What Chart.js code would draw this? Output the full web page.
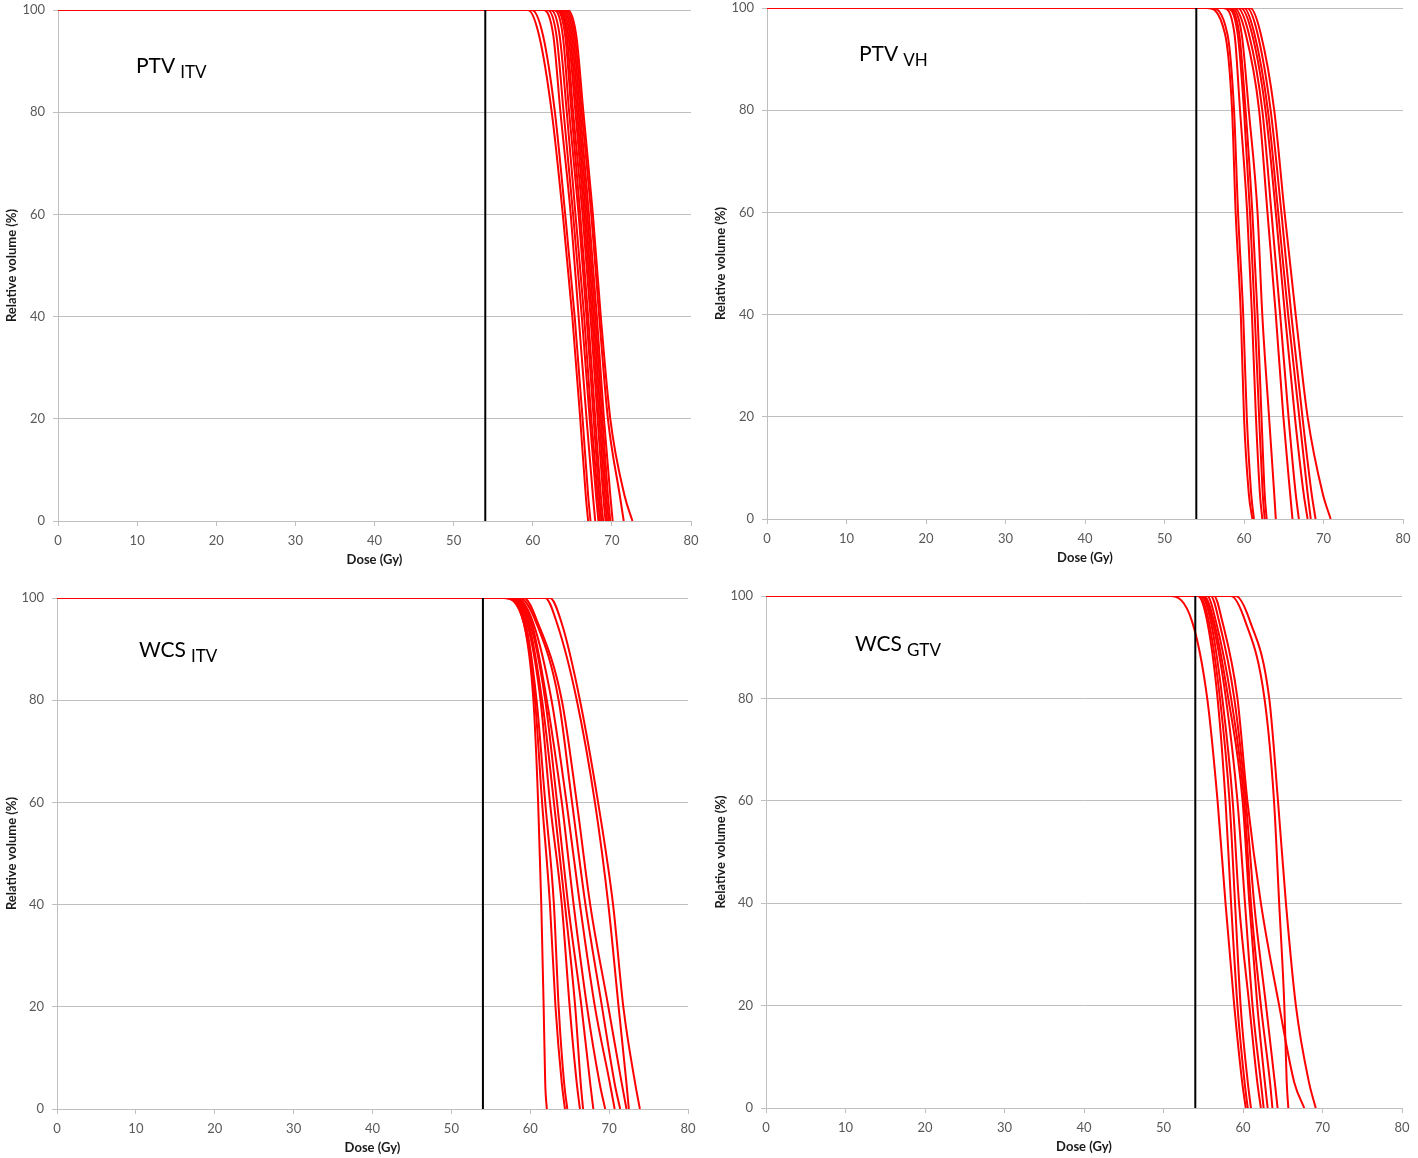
<!DOCTYPE html>
<html>
<head>
<meta charset="utf-8">
<script src="https://cdn.jsdelivr.net/npm/chart.js@4.4.1/dist/chart.umd.min.js"></script>
<style>
  html, body { margin: 0; padding: 0; background: #fff; }
  #wrap { position: relative; width: 1418px; height: 1158px; overflow: hidden; background: #fff; }
  canvas { position: absolute; }
  .lbl { position: absolute; font-family: Lato, "Open Sans", sans-serif; color: #000; white-space: nowrap; line-height: 1; font-size: 21px; z-index: 5; }
  .lbl .sub { font-size: 17px; position: relative; top: 5px; margin-left: 5px; }
</style>
</head>
<body>
<div id="wrap">
  <canvas id="c1"></canvas>
  <canvas id="c2"></canvas>
  <canvas id="c3"></canvas>
  <canvas id="c4"></canvas>
  <div class="lbl" style="left:136px;top:54px">PTV<span class="sub">ITV</span></div>
  <div class="lbl" style="left:859px;top:42px">PTV<span class="sub">VH</span></div>
  <div class="lbl" style="left:139px;top:638px">WCS<span class="sub">ITV</span></div>
  <div class="lbl" style="left:855px;top:632px">WCS<span class="sub">GTV</span></div>
</div>
<script>
// ---------------- DATA ----------------
const xTicks = [0, 10, 20, 30, 40, 50, 60, 70, 80];
const yTicks = [0, 20, 40, 60, 80, 100];
const prescriptionDose = 54;
// relative volume (%) levels at which the dose (Gy) of each curve was read
const volumeLevels = [100, 95, 80, 60, 40, 20, 5, 0];

const ptvItvDoses = [
  [59.4, 60.8, 62.4, 63.8, 65.0, 66.0, 66.7, 67.0],
  [59.9, 61.3, 62.8, 64.1, 65.3, 66.3, 67.0, 67.3],
  [61.4, 62.6, 63.5, 64.8, 65.8, 66.8, 67.6, 67.9],
  [61.9, 63.0, 63.9, 65.1, 66.2, 67.2, 68.0, 68.3],
  [62.3, 63.4, 64.3, 65.4, 66.5, 67.4, 68.2, 68.5],
  [62.7, 63.8, 64.6, 65.8, 66.8, 67.7, 68.4, 68.7],
  [63.0, 64.1, 64.9, 66.0, 67.0, 67.9, 68.6, 68.9],
  [63.2, 64.3, 65.1, 66.3, 67.3, 68.2, 68.9, 69.2],
  [63.4, 64.5, 65.4, 66.5, 67.5, 68.4, 69.1, 69.4],
  [63.6, 64.7, 65.6, 66.7, 67.7, 68.6, 69.3, 69.6],
  [63.8, 64.9, 65.8, 66.9, 67.9, 68.8, 69.5, 69.8],
  [64.0, 65.1, 66.0, 67.1, 68.1, 69.0, 69.8, 70.1],
  [64.2, 65.3, 66.2, 67.4, 68.4, 69.5, 71.0, 71.5],
  [64.4, 65.5, 66.4, 67.6, 68.6, 69.8, 71.6, 72.6]
];

const ptvVhDoses = [
  [55.3, 57.6, 58.5, 58.95, 59.6, 60.0, 60.6, 61.05],
  [55.8, 57.9, 58.75, 59.25, 59.9, 60.35, 60.9, 61.25],
  [57.4, 58.8, 59.5, 60.4, 61.0, 61.5, 62.0, 62.3],
  [57.8, 59.2, 60.0, 60.75, 61.35, 61.9, 62.35, 62.6],
  [58.0, 59.4, 60.2, 61.05, 61.7, 62.2, 62.6, 62.85],
  [58.3, 59.7, 60.6, 61.7, 62.3, 63.15, 63.8, 64.0],
  [58.8, 60.2, 61.9, 62.95, 64.0, 64.95, 65.8, 66.1],
  [59.2, 60.6, 62.3, 63.45, 64.55, 65.6, 66.5, 66.9],
  [59.6, 61.0, 62.7, 64.0, 65.15, 66.4, 67.5, 68.0],
  [60.0, 61.3, 63.0, 64.3, 65.55, 66.95, 68.0, 68.4],
  [60.4, 61.7, 63.35, 64.7, 65.95, 67.35, 68.5, 69.0],
  [60.8, 62.1, 63.8, 65.1, 66.5, 68.0, 69.9, 70.9]
];

const wcsItvDoses = [
  [57.0, 59.2, 60.4, 61.0, 61.4, 61.7, 61.9, 62.1],
  [56.6, 59.2, 60.6, 61.5, 62.5, 63.2, 64.0, 64.4],
  [56.8, 59.4, 60.8, 61.9, 63.0, 63.6, 64.3, 64.7],
  [57.3, 59.6, 61.3, 62.5, 64.0, 65.0, 65.9, 66.3],
  [57.5, 59.8, 61.5, 63.0, 64.4, 65.7, 66.4, 66.7],
  [57.9, 60.0, 61.9, 63.4, 64.8, 66.5, 67.6, 68.0],
  [58.1, 60.2, 62.1, 64.0, 65.5, 67.2, 68.8, 69.5],
  [58.3, 60.4, 62.7, 64.6, 66.3, 68.2, 70.1, 70.7],
  [58.7, 60.8, 63.6, 65.3, 67.0, 69.1, 70.7, 71.4],
  [59.2, 61.0, 64.0, 65.9, 67.6, 69.9, 71.6, 72.2],
  [61.9, 63.4, 65.9, 68.2, 69.9, 71.2, 72.2, 72.5],
  [62.5, 64.0, 66.3, 68.6, 70.5, 71.8, 73.3, 73.9]
];

const wcsGtvDoses = [
  [50.9, 53.6, 55.5, 56.8, 57.8, 58.9, 59.9, 60.35],
  [54.3, 55.5, 56.8, 57.8, 58.5, 59.3, 60.2, 60.6],
  [54.5, 55.7, 57.1, 58.3, 59.0, 59.7, 60.6, 61.0],
  [54.7, 55.95, 57.4, 58.7, 59.5, 60.8, 61.8, 62.25],
  [54.9, 56.15, 57.85, 59.3, 60.25, 61.2, 62.25, 62.6],
  [55.1, 56.35, 58.15, 59.95, 60.8, 61.8, 62.75, 63.1],
  [55.5, 56.6, 58.5, 60.15, 61.0, 62.25, 63.4, 63.7],
  [55.95, 57.0, 58.9, 60.35, 61.4, 62.9, 64.0, 64.35],
  [56.35, 57.4, 59.3, 60.55, 62.25, 64.55, 66.45, 67.7],
  [58.5, 60.3, 62.7, 63.9, 64.55, 65.2, 65.5, 65.7],
  [59.1, 60.9, 63.3, 64.4, 65.4, 66.65, 68.3, 69.15]
];

const xTitle = 'Dose (Gy)';
const yTitle = 'Relative volume (%)';

// ---------------- CHARTS ----------------
const FONT = 'Lato, "Open Sans", sans-serif';
const GRID = '#bfbfbf';
const TOP_GAP = 20;      // canvas space above the plot area
const AXIS_H = 59;       // height of the x axis block below the plot area

function buildPanel(id, doses, colLeft, plot) {
  const canvas = document.getElementById(id);
  const cTop = plot.top - TOP_GAP;
  const w = 709;
  const h = plot.bottom - cTop + AXIS_H;
  canvas.width = w; canvas.height = h;
  canvas.style.left = colLeft + 'px';
  canvas.style.top = cTop + 'px';
  const pl = plot.left - colLeft, pr = plot.right - colLeft;

  const datasets = [{
    data: [{ x: prescriptionDose, y: 0 }, { x: prescriptionDose, y: 100 }],
    borderColor: '#000', borderWidth: 2, pointRadius: 0, tension: 0, order: -1
  }];
  doses.forEach(d => {
    const pts = [{ x: 0, y: 100 }].concat(d.map((v, i) => ({ x: v, y: volumeLevels[i] })));
    datasets.push({
      data: pts, borderColor: '#ff0000', borderWidth: 2, pointRadius: 0,
      cubicInterpolationMode: 'monotone'
    });
  });
  new Chart(canvas, {
    type: 'line',
    data: { datasets },
    options: {
      responsive: false, animation: false, events: [],
      layout: { padding: { left: 0, top: TOP_GAP, right: w - pr, bottom: 0 } },
      plugins: { legend: { display: false }, tooltip: { enabled: false } },
      scales: {
        x: {
          type: 'linear', min: 0, max: 80,
          afterBuildTicks: s => { s.ticks = xTicks.map(v => ({ value: v })); },
          afterFit: s => { s.height = AXIS_H; },
          grid: { drawOnChartArea: false, color: GRID, tickLength: 5 },
          border: { display: true, color: GRID },
          ticks: { font: { family: FONT, size: 13 }, color: '#595959', padding: 7, maxRotation: 0 },
          title: { display: true, text: xTitle, font: { family: FONT, size: 13, weight: 'bold' }, color: '#1a1a1a', padding: { top: 0, bottom: 12 } }
        },
        y: {
          type: 'linear', min: 0, max: 100,
          afterBuildTicks: s => { s.ticks = yTicks.map(v => ({ value: v })); },
          afterFit: s => { s.width = pl; },
          grid: { color: GRID, tickLength: 5 },
          border: { display: true, color: GRID },
          ticks: { font: { family: FONT, size: 13 }, color: '#595959', padding: 8 },
          title: { display: true, text: yTitle, font: { family: FONT, size: 13, weight: 'bold' }, color: '#1a1a1a', padding: { top: 4, bottom: 0 } }
        }
      }
    }
  });
}

buildPanel('c1', ptvItvDoses, 0,   { left: 58,  top: 10,  right: 691,  bottom: 521 });
buildPanel('c2', ptvVhDoses,  709, { left: 767, top: 8,   right: 1403, bottom: 519 });
buildPanel('c3', wcsItvDoses, 0,   { left: 57,  top: 598, right: 688,  bottom: 1109 });
buildPanel('c4', wcsGtvDoses, 709, { left: 766, top: 596, right: 1402, bottom: 1108 });
</script>
</body>
</html>
